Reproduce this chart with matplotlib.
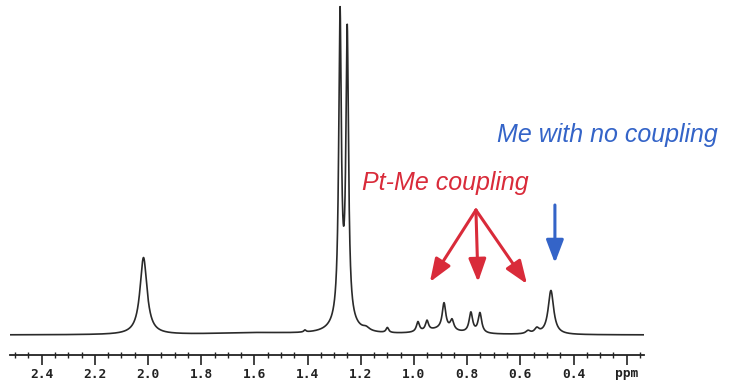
import numpy as np
import matplotlib
matplotlib.use("Agg")
import matplotlib.pyplot as plt
from matplotlib.ticker import MultipleLocator, FixedLocator, FixedFormatter

# Peak table of the 1H spectrum: shift (ppm), height (arb. units), FWHM (ppm)
peak_ppm = [2.017, 1.278, 1.251, 1.265, 1.410, 1.180, 1.100,
            0.985, 0.951, 0.887, 0.857, 0.900, 0.786, 0.752,
            0.571, 0.538, 0.485, 1.600]
peak_height = [77, 302, 284, 14, 2, 3, 5,
               10, 10, 26, 10, 5, 20, 20,
               3, 5, 44, 2]
peak_fwhm = [0.032, 0.0118, 0.0118, 0.075, 0.010, 0.030, 0.012,
             0.014, 0.014, 0.016, 0.016, 0.140, 0.016, 0.016,
             0.020, 0.020, 0.025, 0.400]

ppm_span = [2.519, 0.135]
tick_values = [2.4, 2.2, 2.0, 1.8, 1.6, 1.4, 1.2, 1.0, 0.8, 0.6, 0.4, 0.2]
tick_labels = ["2.4", "2.2", "2.0", "1.8", "1.6", "1.4", "1.2",
               "1.0", "0.8", "0.6", "0.4", "ppm"]

# Annotations: Pt-Me coupling arrows (tail -> satellite tips) and uncoupled methyl
red_tail = (0.767, 125)
red_tips_ppm = [0.940, 0.759, 0.575]
red_tips_h = [53, 53, 51]
blue_tail = (0.470, 130)
blue_tip = (0.470, 72)

# Build the spectrum as a sum of Lorentzian lines
ppm = np.linspace(ppm_span[0], ppm_span[1], 6000)
spec = np.zeros_like(ppm)
for c, h, w in zip(peak_ppm, peak_height, peak_fwhm):
    spec += h / (1.0 + (2.0 * (ppm - c) / w) ** 2)

fig = plt.figure(figsize=(7.32, 3.81), dpi=100)
ax = fig.add_axes([10 / 732, 26 / 381, 634 / 732, 355 / 381])
ax.plot(ppm, spec, color="#2a2a2a", lw=1.2)
ax.set_xlim(ppm_span[0], ppm_span[1])
ax.set_ylim(-20, 335)

for s in ("top", "left", "right"):
    ax.spines[s].set_visible(False)
ax.spines["bottom"].set_linewidth(1.3)
ax.spines["bottom"].set_color("#222222")
ax.set_yticks([])

ax.xaxis.set_major_locator(FixedLocator(tick_values))
ax.xaxis.set_major_formatter(FixedFormatter(tick_labels))
ax.xaxis.set_minor_locator(MultipleLocator(0.05))
ax.tick_params(axis="x", which="major", direction="out", length=7, width=1.2,
               color="#222222", pad=2)
ax.tick_params(axis="x", which="minor", direction="inout", length=4, width=1.0,
               color="#222222")
for lab in ax.get_xticklabels():
    lab.set_fontfamily("DejaVu Sans Mono")
    lab.set_fontweight("bold")
    lab.set_fontsize(9.3)
    lab.set_color("#222222")

red = "#d92b3a"
blue = "#3464c8"
for xt, yt in zip(red_tips_ppm, red_tips_h):
    ax.annotate("", xy=(xt, yt), xytext=red_tail,
                arrowprops=dict(arrowstyle="-|>,head_length=1.0,head_width=0.38",
                                color=red, lw=2.2, shrinkA=0, shrinkB=0,
                                mutation_scale=14))
ax.annotate("", xy=blue_tip, xytext=blue_tail,
            arrowprops=dict(arrowstyle="-|>,head_length=1.0,head_width=0.38",
                            color=blue, lw=2.2, shrinkA=0, shrinkB=0,
                            mutation_scale=14))

ax.text(1.195, 145, "Pt-Me coupling", color=red, fontsize=18, style="italic",
        family="Liberation Sans", ha="left", va="baseline")
ax.text(0.688, 193, "Me with no coupling", color=blue, fontsize=18,
        style="italic", family="Liberation Sans", ha="left", va="baseline",
        clip_on=False)

fig.savefig("out.png", dpi=100)
